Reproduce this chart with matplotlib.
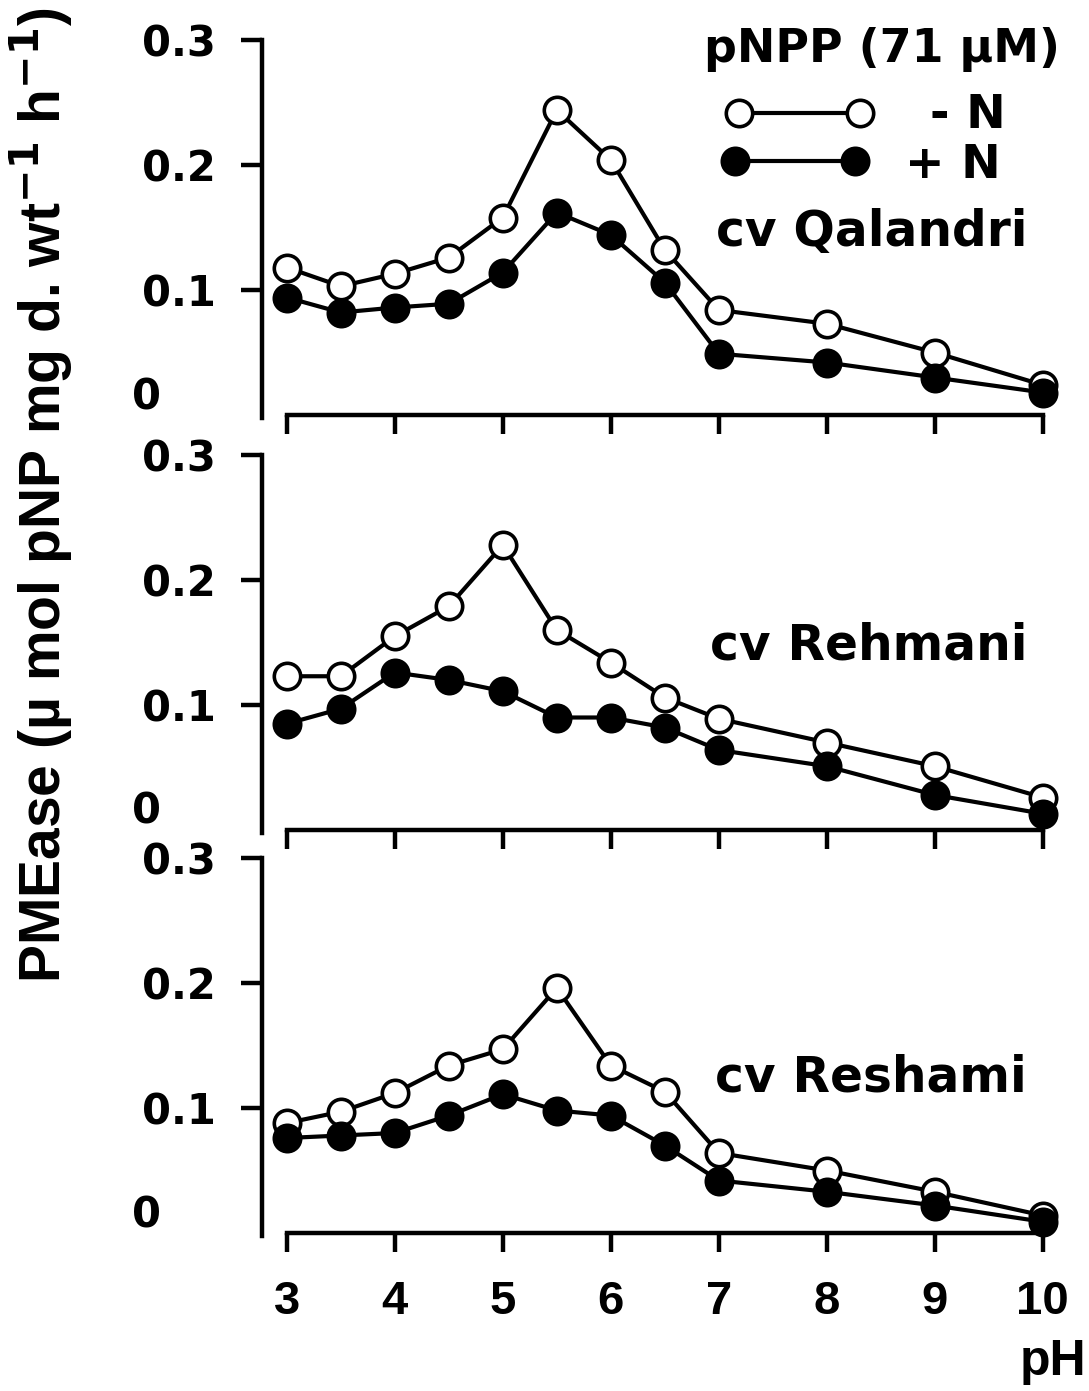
import matplotlib
matplotlib.use("Agg")
import matplotlib.pyplot as plt
from matplotlib import font_manager
from matplotlib.lines import Line2D

# Data: PMEase activity vs pH
ph = [3, 3.5, 4, 4.5, 5, 5.5, 6, 6.5, 7, 8, 9, 10]

qalandri_minus_n = [0.118, 0.103, 0.113, 0.126, 0.158, 0.244, 0.204, 0.132, 0.084, 0.073, 0.050, 0.024]
qalandri_plus_n = [0.094, 0.082, 0.086, 0.089, 0.114, 0.162, 0.144, 0.106, 0.049, 0.042, 0.030, 0.018]

rehmani_minus_n = [0.123, 0.123, 0.155, 0.179, 0.228, 0.160, 0.134, 0.106, 0.089, 0.070, 0.051, 0.026]
rehmani_plus_n = [0.085, 0.097, 0.126, 0.120, 0.111, 0.090, 0.090, 0.082, 0.064, 0.051, 0.028, 0.013]

reshami_minus_n = [0.088, 0.097, 0.112, 0.134, 0.147, 0.196, 0.134, 0.113, 0.064, 0.050, 0.033, 0.014]
reshami_plus_n = [0.076, 0.078, 0.080, 0.094, 0.111, 0.098, 0.094, 0.070, 0.042, 0.033, 0.022, 0.009]

cultivars = ["cv Qalandri", "cv Rehmani", "cv Reshami"]
minus_n = [qalandri_minus_n, rehmani_minus_n, reshami_minus_n]
plus_n = [qalandri_plus_n, rehmani_plus_n, reshami_plus_n]

y_ticks = [0.1, 0.2, 0.3]
y_tick_labels = ["0.1", "0.2", "0.3"]
x_ticks = [3, 4, 5, 6, 7, 8, 9, 10]

plt.rcParams["font.family"] = ["DejaVu Sans"]
plt.rcParams["font.weight"] = "bold"
plt.rcParams["mathtext.default"] = "bf"

available = {f.name for f in font_manager.fontManager.ttflist}
narrow = "Liberation Sans Narrow" if "Liberation Sans Narrow" in available else "Liberation Sans"

W, H = 1089, 1391
fig = plt.figure(figsize=(W / 100, H / 100), dpi=100)


def fx(px):
    return px / W


def fy(py):
    return 1 - py / H


# pixel geometry of the panels
left_px = 262
px_per_ph = 108.0
px_per_unit = 1250.0
xmin, xmax = 2.77, 10.1
ymax = 0.305
zero_px = [415, 830, 1233]
label_px = [232, 645, 1078]

line_kw = dict(color="black", lw=3, ms=19, mec="black", mew=2.6,
               clip_on=False)

for i in range(3):
    height = ymax * px_per_unit / H
    width = (xmax - xmin) * px_per_ph / W
    ax = fig.add_axes([fx(left_px), fy(zero_px[i]), width, height])

    ax.plot(ph, minus_n[i], "-o", mfc="white", zorder=3, **line_kw)
    ax.plot(ph, plus_n[i], "-o", mfc="black", zorder=4, **line_kw)

    ax.set_xlim(xmin, xmax)
    ax.set_ylim(0, ymax)
    for s in ["top", "right"]:
        ax.spines[s].set_visible(False)
    ax.spines["left"].set_bounds(-0.002, 0.3)
    ax.spines["bottom"].set_bounds(3, 10)
    ax.spines["left"].set_linewidth(3.2)
    ax.spines["bottom"].set_linewidth(3.2)

    ax.set_yticks(y_ticks)
    ax.set_yticklabels(y_tick_labels)
    ax.set_xticks(x_ticks)
    ax.tick_params(axis="y", direction="out", length=15, width=3.2, pad=18,
                   labelsize=30)
    ax.tick_params(axis="x", direction="out", length=14, width=3.2, pad=20,
                   labelsize=34)
    for t in ax.get_xticklabels():
        t.set_fontfamily(narrow)
    if i < 2:
        ax.tick_params(axis="x", labelbottom=False)

    # the zero label sits apart from the axis
    fig.text(fx(147), fy(zero_px[i] - 18), "0", fontsize=30,
             ha="center", va="center")
    fig.text(fx(1027), fy(label_px[i]), cultivars[i], fontsize=35,
             ha="right", va="center")

# legend drawn by hand at the top right
fig.text(fx(882), fy(50), "pNPP (71 µM)", fontsize=33, ha="center",
         va="center")
fig.add_artist(Line2D([fx(739), fx(860)], [fy(113), fy(113)], marker="o",
                      mfc="white", **line_kw))
fig.add_artist(Line2D([fx(735), fx(855)], [fy(161), fy(161)], marker="o",
                      mfc="black", **line_kw))
fig.text(fx(930), fy(116), "- N", fontsize=34, ha="left", va="center")
fig.text(fx(905), fy(165), "+ N", fontsize=34, ha="left", va="center")

fig.text(fx(42), fy(495),
         r"PMEase (µ mol pNP mg d. wt$^{-1}$ h$^{-1}$)",
         rotation=90, ha="center", va="center", fontsize=41,
         fontfamily=narrow)
fig.text(fx(1086), fy(1362), "pH", ha="right", va="center",
         fontsize=36, fontfamily=narrow)

fig.savefig("out.png", dpi=100)
